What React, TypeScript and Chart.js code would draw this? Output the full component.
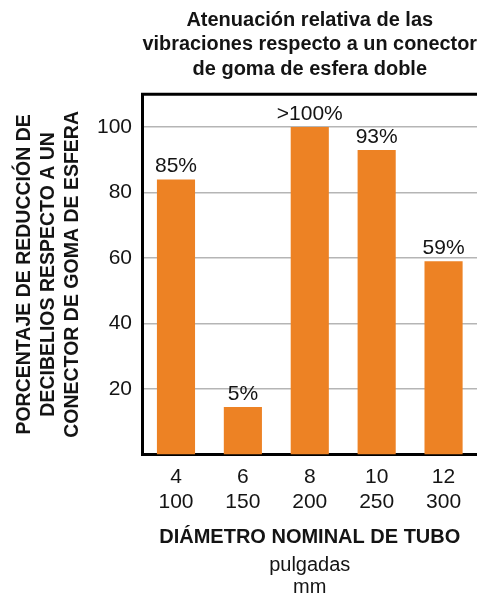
import React, { useEffect, useRef } from 'react';
import { Chart, registerables } from 'chart.js';

Chart.register(...registerables);

const categoriesInches = ['4', '6', '8', '10', '12'];
const categoriesMm = ['100', '150', '200', '250', '300'];
const reductionValues = [84, 14.5, 100, 93, 59];
const valueLabels = ['85%', '5%', '>100%', '93%', '59%'];
const yTickValues = [20, 40, 60, 80, 100];
const titleLines = [
  'Atenuación relativa de las',
  'vibraciones respecto a un conector',
  'de goma de esfera doble',
];
const yTitleLines = [
  'PORCENTAJE DE REDUCCIÓN DE',
  'DECIBELIOS RESPECTO A UN',
  'CONECTOR DE GOMA DE ESFERA',
];
const xTitle = 'DIÁMETRO NOMINAL DE TUBO';
const xUnits = ['pulgadas', 'mm'];

const FONT = '"Liberation Sans", Arial, sans-serif';
const TEXT = '#141414';

const barLabels = {
  id: 'barLabels',
  afterDatasetsDraw(chart: any) {
    const meta = chart.getDatasetMeta(0);
    const ctx = chart.ctx;
    ctx.save();
    ctx.font = `21px ${FONT}`;
    ctx.fillStyle = TEXT;
    ctx.textAlign = 'center';
    ctx.textBaseline = 'alphabetic';
    meta.data.forEach((el: any, i: number) => {
      ctx.fillText(valueLabels[i], el.x, el.y - 7);
    });
    ctx.restore();
  },
};

const topFrame = {
  id: 'topFrame',
  afterDraw(chart: any) {
    const { ctx, chartArea } = chart;
    ctx.save();
    ctx.strokeStyle = '#000';
    ctx.lineWidth = 3;
    ctx.beginPath();
    ctx.moveTo(chartArea.left - 1.5, chartArea.top);
    ctx.lineTo(chartArea.right, chartArea.top);
    ctx.stroke();
    ctx.restore();
  },
};

export default function App() {
  const ref = useRef<HTMLCanvasElement | null>(null);

  useEffect(() => {
    if (!ref.current) return;
    const chart = new Chart(ref.current, {
      type: 'bar',
      data: {
        labels: categoriesInches.map((c, i) => [c, categoriesMm[i]]),
        datasets: [
          {
            data: reductionValues,
            backgroundColor: '#ED8224',
            barPercentage: 0.57,
            categoryPercentage: 1,
          },
        ],
      },
      options: {
        responsive: false,
        animation: false,
        devicePixelRatio: 1,
        layout: { padding: { left: 0, right: 0, top: 0, bottom: -3 } },
        plugins: {
          legend: { display: false },
          tooltip: { enabled: false },
          title: {
            display: true,
            text: titleLines,
            color: TEXT,
            fullSize: false,
            font: { family: FONT, size: 20, weight: 'bold', lineHeight: 1.22 },
            padding: { top: 8, bottom: 13 },
          },
          subtitle: {
            display: true,
            position: 'bottom',
            text: xUnits,
            color: TEXT,
            fullSize: false,
            font: { family: FONT, size: 20, weight: 'normal', lineHeight: 1.1 },
            padding: { top: 0, bottom: 0 },
          },
        },
        scales: {
          x: {
            grid: { display: false, drawTicks: false },
            border: { display: true, color: '#000', width: 3 },
            ticks: {
              color: TEXT,
              padding: 10,
              font: { family: FONT, size: 21, lineHeight: 1.2 },
            },
            title: {
              display: true,
              text: xTitle,
              color: TEXT,
              font: { family: FONT, size: 20, weight: 'bold', lineHeight: 1.2 },
              padding: { top: 0, bottom: 5 },
            },
          },
          y: {
            min: 0,
            max: 110,
            afterBuildTicks: (axis: any) => {
              axis.ticks = yTickValues.map((v) => ({ value: v }));
            },
            grid: { color: '#b5b5b5', lineWidth: 1.5, drawTicks: false },
            border: { display: true, color: '#000', width: 3 },
            ticks: {
              color: TEXT,
              padding: 10.5,
              font: { family: FONT, size: 21 },
            },
            title: {
              display: true,
              text: yTitleLines,
              color: TEXT,
              font: { family: FONT, size: 19.5, weight: 'bold', lineHeight: 24 / 19.5 },
              padding: { top: 13, bottom: 1.5 },
            },
          },
        },
      },
      plugins: [barLabels, topFrame],
    } as any);
    return () => chart.destroy();
  }, []);

  return (
    <div style={{ position: 'fixed', left: 0, top: 0, width: 477, height: 595, background: '#fff' }}>
      <canvas ref={ref} width={477} height={595} style={{ width: 477, height: 595, display: 'block' }} />
    </div>
  );
}
